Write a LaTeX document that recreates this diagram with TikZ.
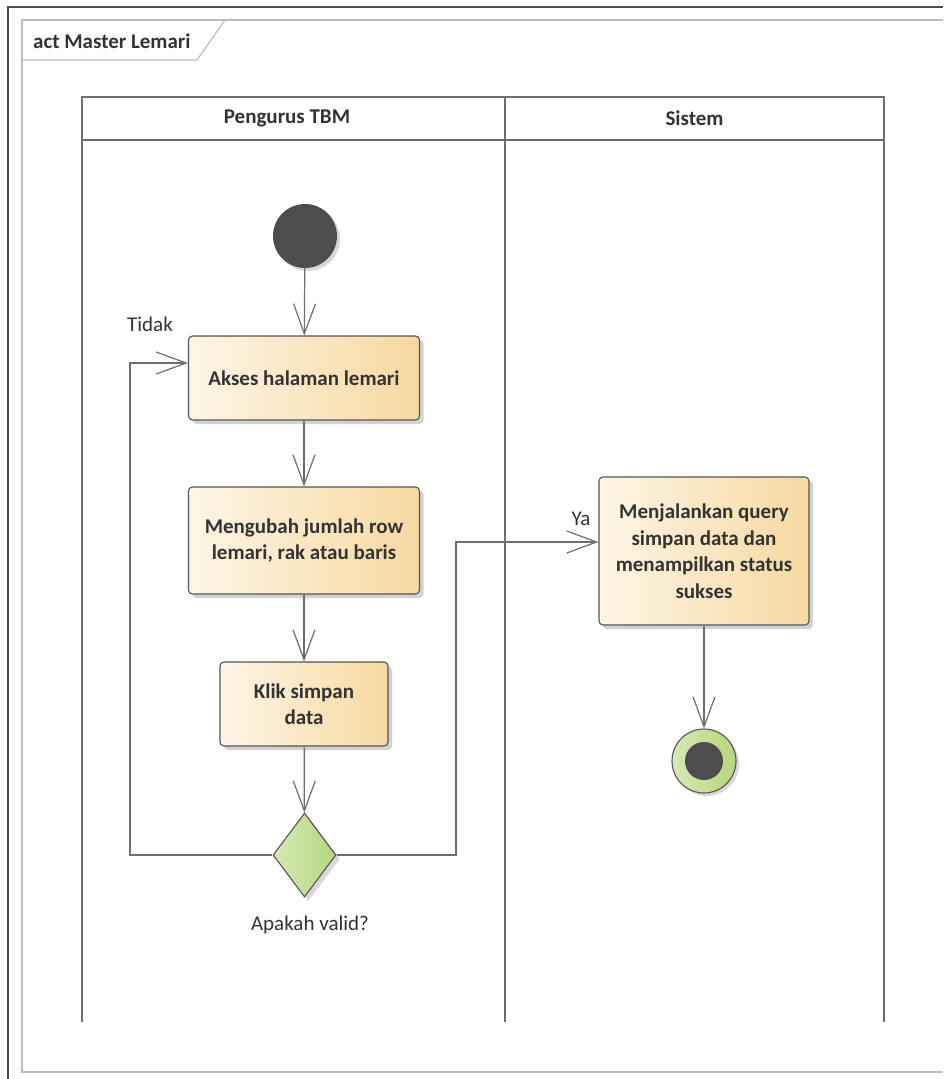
\documentclass[tikz,border=0pt]{standalone}
\usepackage{fontspec}
\setmainfont{Carlito}
\usetikzlibrary{shapes.geometric,arrows.meta,shadows}

\definecolor{actleft}{HTML}{FDF5E6}
\definecolor{actright}{HTML}{F7D9A1}
\definecolor{edgegray}{HTML}{6E6E6E}
\definecolor{bordergray}{HTML}{555555}
\definecolor{darkfill}{HTML}{4D4D4D}
\definecolor{greenleft}{HTML}{D6E9B8}
\definecolor{greenright}{HTML}{B5D67B}
\definecolor{framegray}{HTML}{BDBDBD}
\definecolor{txt}{HTML}{333333}

\tikzset{
  act/.style={draw=bordergray, line width=1.1pt, rounded corners=4pt,
    left color=actleft, right color=actright, text=txt,
    font=\fontsize{21}{26.5}\selectfont\bfseries, align=center, inner sep=0pt,
    drop shadow={shadow xshift=4pt, shadow yshift=-4pt, opacity=0.35, fill=gray}},
  flow/.style={draw=edgegray, line width=1.2pt, -{Straight Barb[length=30pt,width=22pt,line width=1.2pt]}},
  lane/.style={draw=edgegray, line width=1.1pt},
  lbl/.style={text=txt, font=\fontsize{21}{25}\selectfont, inner sep=0pt},
  hdr/.style={text=txt, font=\fontsize{21}{25}\selectfont\bfseries, inner sep=0pt}
}

\begin{document}
\begin{tikzpicture}[x=1pt, y=-1pt]
  \useasboundingbox (0,0) rectangle (943,1079);
  \fill[white] (0,0) rectangle (943,1079);

  % page edges
  \draw[black!70, line width=1.6pt] (8,1079) -- (8,7) -- (943,7);
  % diagram frame
  \draw[framegray, line width=1.4pt] (943,20) -- (22,20) -- (22,1072) -- (943,1072);
  % frame name tab
  \draw[framegray, line width=1.2pt] (22,60) -- (197,60) -- (225,20);
  \node[hdr, anchor=west] (title) at (33,41) {act Master Lemari};

  % swimlanes
  \draw[lane] (82,97) rectangle (884,140);
  \draw[lane] (82,140) -- (82,1022);
  \draw[lane] (505,97) -- (505,1022);
  \draw[lane] (884,140) -- (884,1022);
  \node[hdr] (laneA) at (287,118) {Pengurus TBM};
  \node[hdr] (laneB) at (694.5,118) {Sistem};

  % initial node
  \node[circle, fill=darkfill, minimum size=64pt, inner sep=0pt,
        drop shadow={shadow xshift=3pt, shadow yshift=-3pt, opacity=0.3, fill=gray}] (start) at (305,236) {};

  % actions
  \node[act, minimum width=231pt, minimum height=84pt] (akses) at (304,378) {Akses halaman lemari};
  \node[act, minimum width=231pt, minimum height=107pt] (ubah) at (304,540.5) {Mengubah jumlah row\\lemari, rak atau baris};
  \node[act, minimum width=168pt, minimum height=84pt] (klik) at (304,704) {Klik simpan\\data};
  \node[act, minimum width=210pt, minimum height=148pt] (run) at (704,551) {Menjalankan query\\simpan data dan\\menampilkan status\\sukses};

  % decision
  \node[diamond, draw=bordergray, line width=1.1pt, left color=greenleft, right color=greenright,
        minimum width=63pt, minimum height=84pt, inner sep=0pt, shape aspect=0.75,
        drop shadow={shadow xshift=4pt, shadow yshift=-4pt, opacity=0.3, fill=gray}] (dec) at (304.5,855) {};
  \node[lbl] (declbl) at (310,925) {Apakah valid?};

  % final node
  \node[circle, draw=bordergray, line width=1.1pt, left color=greenleft, right color=greenright,
        minimum size=64pt, inner sep=0pt,
        drop shadow={shadow xshift=3pt, shadow yshift=-3pt, opacity=0.3, fill=gray}] (final) at (704,761) {};
  \node[circle, fill=darkfill, minimum size=38pt, inner sep=0pt] (finaldot) at (final) {};

  % control flow
  \draw[flow] (start) -- (akses);
  \draw[flow] (akses) -- (ubah);
  \draw[flow] (ubah) -- (klik);
  \draw[flow] (klik) -- (dec);
  \coordinate (tl) at (130,363);
  \coordinate (tr) at (456,542);
  \draw[flow] (dec.west) -| (tl) -- (akses.west |- tl);
  \draw[flow] (dec.east) -| (tr) -- (run.west |- tr);
  \draw[flow] (run) -- (final);

  % guard labels
  \node[lbl] (no) at (150,324) {Tidak};
  \node[lbl] (yes) at (581,519) {Ya};
\end{tikzpicture}
\end{document}
